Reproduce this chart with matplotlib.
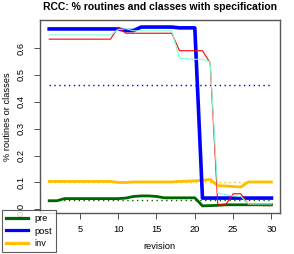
import numpy as np
import matplotlib
matplotlib.use("Agg")
import matplotlib.pyplot as plt
from matplotlib.lines import Line2D

plt.rcParams["font.family"] = ["Liberation Sans", "DejaVu Sans"]

revision = np.arange(1, 31)

# % routines with specification (thin lines)
routines_a = [0.633, 0.633, 0.633, 0.633, 0.633, 0.633, 0.633, 0.633, 0.633, 0.677,
              0.655, 0.655, 0.655, 0.655, 0.655, 0.655, 0.655, 0.590, 0.590, 0.590,
              0.590, 0.545, 0.017, 0.017, 0.058, 0.058, 0.017, 0.015, 0.014, 0.014]
routines_b = [0.649, 0.649, 0.649, 0.649, 0.649, 0.649, 0.649, 0.649, 0.649, 0.668,
              0.672, 0.664, 0.664, 0.664, 0.664, 0.664, 0.664, 0.562, 0.560, 0.558,
              0.558, 0.549, 0.060, 0.055, 0.050, 0.048, 0.020, 0.020, 0.020, 0.020]

# thick lines: pre, post, inv
pre = [0.032, 0.032, 0.040, 0.040, 0.040, 0.040, 0.040, 0.040, 0.040, 0.040,
       0.042, 0.048, 0.050, 0.050, 0.048, 0.043, 0.043, 0.043, 0.043, 0.043,
       0.013, 0.014, 0.015, 0.017, 0.017, 0.017, 0.017, 0.017, 0.017, 0.017]
post = [0.671, 0.671, 0.671, 0.671, 0.671, 0.671, 0.671, 0.671, 0.671, 0.671,
        0.665, 0.665, 0.678, 0.678, 0.678, 0.678, 0.678, 0.675, 0.675, 0.675,
        0.042, 0.042, 0.042, 0.042, 0.042, 0.042, 0.042, 0.042, 0.042, 0.042]
inv = [0.104, 0.104, 0.104, 0.104, 0.104, 0.104, 0.104, 0.104, 0.104, 0.100,
       0.100, 0.102, 0.102, 0.102, 0.102, 0.102, 0.102, 0.104, 0.105, 0.106,
       0.108, 0.111, 0.088, 0.087, 0.085, 0.083, 0.102, 0.102, 0.102, 0.102]

series_labels = ["pre", "post", "inv"]

fig = plt.figure(figsize=(2.94, 2.54), dpi=100)
ax = fig.add_axes([0.136, 0.163, 0.816, 0.758])

# mean lines (dotted)
dots = (0, (1, 2.5))
ax.plot(revision, [np.mean(post)] * 30, color="#0000CC", lw=1.0, ls=dots)
ax.plot(revision, [np.mean(inv)] * 30, color="#FFBF00", lw=1.0, ls=dots)
ax.plot(revision, [np.mean(pre)] * 30, color="#006400", lw=1.0, ls=dots)

ax.plot(revision, inv, color="#FFBF00", lw=2.0, solid_joinstyle="round")
ax.plot(revision, pre, color="#006400", lw=2.0, solid_joinstyle="round")
ax.plot(revision, post, color="#0000FF", lw=2.6, solid_joinstyle="round")
ax.plot(revision, routines_a, color="#FF0000", lw=0.8)
ax.plot(revision, routines_b, color="#7FFFD4", lw=0.8)

ax.set_xlim(-0.2, 31.1)
ax.set_ylim(-0.012, 0.704)
ax.set_xticks([5, 10, 15, 20, 25, 30])
ax.set_yticks([0.0, 0.1, 0.2, 0.3, 0.4, 0.5, 0.6])
ax.set_yticklabels(["0.0", "0.1", "0.2", "0.3", "0.4", "0.5", "0.6"],
                   rotation=90, va="center")
ax.tick_params(labelsize=6.7, length=4, width=0.6, color="#333333")
ax.tick_params(axis="x", pad=5)
ax.tick_params(axis="y", pad=6)
for s in ax.spines.values():
    s.set_color("#555555")
    s.set_linewidth(1.0)

ax.set_xlabel("revision", fontsize=6.7, labelpad=6)
ax.set_ylabel("% routines or classes", fontsize=6.7, labelpad=4)
ax.set_title("RCC: % routines and classes with specification",
             fontsize=7.5, fontweight="bold", pad=7)

handles = [Line2D([], [], color=c, lw=2.3) for c in ["#006400", "#0000FF", "#FFBF00"]]
leg = fig.legend(handles, series_labels, loc="lower left",
                 bbox_to_anchor=(0.007, 0.008), fontsize=6.7, frameon=True,
                 fancybox=False, handlelength=2.4, borderpad=0.4,
                 labelspacing=0.4, handletextpad=0.7, borderaxespad=0)
leg.get_frame().set_edgecolor("#333333")
leg.get_frame().set_linewidth(0.8)

fig.savefig("out.png", dpi=100)
